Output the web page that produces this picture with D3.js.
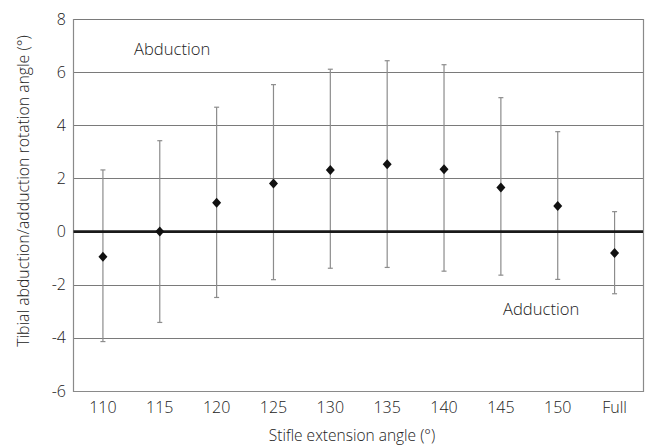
<!DOCTYPE html>
<html><head><meta charset="utf-8">
<script src="https://cdn.jsdelivr.net/npm/d3@7"></script>
<style>body{margin:0;background:#fff}svg{display:block}text{font-family:"Open Sans",sans-serif;fill:#222;font-weight:300}</style>
</head><body><svg id="c" width="646" height="445"></svg>
<script>
const categories = ["110","115","120","125","130","135","140","145","150","Full"];
const means = [-0.95, 0.0, 1.08, 1.81, 2.32, 2.53, 2.35, 1.66, 0.96, -0.81];
const upper = [2.32, 3.42, 4.68, 5.53, 6.11, 6.43, 6.28, 5.04, 3.76, 0.75];
const lower = [-4.14, -3.42, -2.48, -1.81, -1.38, -1.35, -1.49, -1.64, -1.80, -2.34];
const yTicks = [-6,-4,-2,0,2,4,6,8];

const svg = d3.select("#c");
const L = 73.5, R = 643, T = 19, B = 391;
const x = d3.scaleBand().domain(categories).range([L+1, R]);
const y = d3.scaleLinear().domain([-6, 8]).range([B, T]);

// gridlines
svg.append("g").selectAll("line").data(yTicks.filter(d=>d!==0 && d!==-6)).join("line")
  .attr("x1", L).attr("x2", R).attr("y1", d=>Math.round(y(d))+0.5).attr("y2", d=>Math.round(y(d))+0.5)
  .attr("stroke", "#7a7a7a").attr("stroke-width", 1);

// frame: left, bottom, right
svg.append("path").attr("d", `M${L},${T}V${B+0.5}H${R+0.5}V${T}`).attr("fill","none").attr("stroke","#8a8a8a").attr("stroke-width",1.2);

// y axis labels
const yAxis = d3.axisLeft(y).tickValues(yTicks).tickFormat(d=>String(d)).tickSize(0).tickPadding(7.5);
const gy = svg.append("g").attr("transform", `translate(${L},0)`).call(yAxis);
gy.select(".domain").remove();
gy.selectAll("text").style("font-size","16px").style("font-family","'Open Sans',sans-serif").style("font-weight","300").attr("fill","#222");

// x axis labels
const xAxis = d3.axisBottom(x).tickSize(0).tickPadding(10.5);
const gx = svg.append("g").attr("transform", `translate(0,${B})`).call(xAxis);
gx.select(".domain").remove();
gx.selectAll("text").style("font-size","16px").style("font-family","'Open Sans',sans-serif").style("font-weight","300").attr("fill","#222");

// error bars
const eb = svg.append("g").attr("stroke","#8c8c8c").attr("stroke-width",1.2);
categories.forEach((c,i)=>{
  const cx = x(c) + x.bandwidth()/2;
  eb.append("line").attr("x1",cx).attr("x2",cx).attr("y1",y(upper[i])).attr("y2",y(lower[i]));
  eb.append("line").attr("x1",cx-2.5).attr("x2",cx+2.5).attr("y1",y(upper[i])).attr("y2",y(upper[i]));
  eb.append("line").attr("x1",cx-2.5).attr("x2",cx+2.5).attr("y1",y(lower[i])).attr("y2",y(lower[i]));
});

// zero line
svg.append("line").attr("x1",L).attr("x2",R).attr("y1",y(0)).attr("y2",y(0)).attr("stroke","#1a1a1a").attr("stroke-width",2.8);

// diamonds
svg.append("g").selectAll("path").data(categories).join("path")
  .attr("transform",(c,i)=>`translate(${x(c)+x.bandwidth()/2},${y(means[i])})`)
  .attr("d","M0,-5L4.5,0L0,5L-4.5,0Z").attr("fill","#111");

// annotations
svg.append("text").attr("x",134).attr("y",55).style("font-size","16.6px").text("Abduction");
svg.append("text").attr("x",503).attr("y",315).style("font-size","16.6px").text("Adduction");

// titles
svg.append("text").attr("x",352).attr("y",441).attr("text-anchor","middle").style("font-size","15.5px").text("Stifle extension angle (°)");
svg.append("text").attr("transform","translate(29,191) rotate(-90)").attr("text-anchor","middle").style("font-size","15.8px").text("Tibial abduction/adduction rotation angle (°)");
</script></body></html>
